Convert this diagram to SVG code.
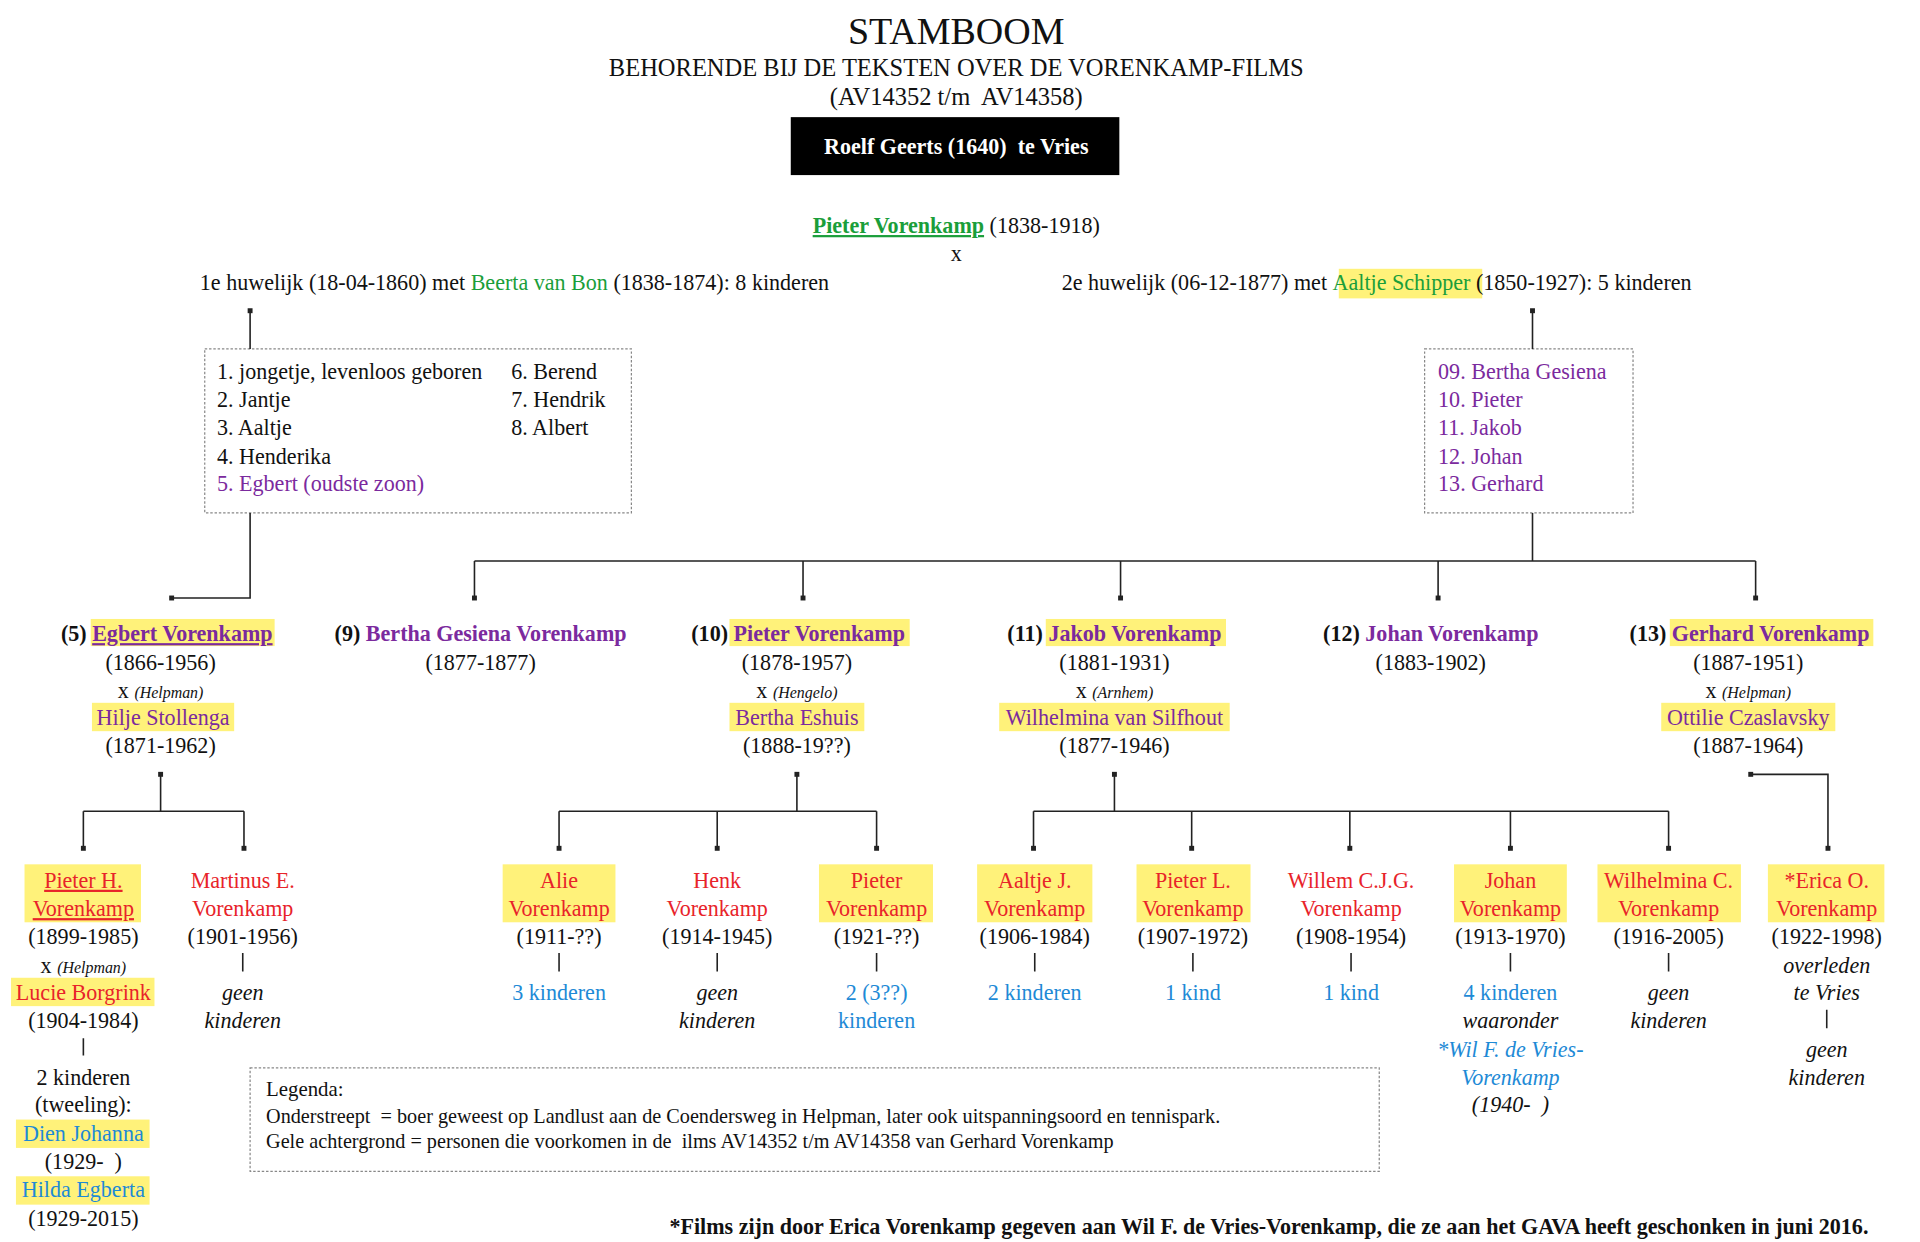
<svg xmlns="http://www.w3.org/2000/svg" width="1920" height="1242" viewBox="0 0 1920 1242">
<style>
text{font-family:"Liberation Serif",serif;font-size:18px;fill:#111;white-space:pre}
.c{text-anchor:middle}
.g{fill:#1a9e3a}.p{fill:#7b2a9e}.r{fill:#e8232a}.b{fill:#1e8ad6}
.i{font-style:italic}.sm{font-size:13px;font-style:italic}
.hl{fill:#fff27a}
.ln{stroke:#222;stroke-width:1.3;fill:none}
.box{fill:none;stroke:#888;stroke-width:1;stroke-dasharray:2 1.5}
.bold{font-weight:bold}
</style>
<rect width="1920" height="1242" fill="#fff"/>
<g transform="scale(1.226,1.233)">
<g id="title">
<text x="780" y="36" class="c" style="font-size:31px">STAMBOOM</text>
<text x="780" y="62" class="c" style="font-size:20px">BEHORENDE BIJ DE TEKSTEN OVER DE VORENKAMP-FILMS</text>
<text x="780" y="85" class="c" style="font-size:20px">(AV14352 t/m  AV14358)</text>
</g>
<g id="roelf"><rect x="645" y="95" width="268" height="47" fill="#000"/>
<text x="780" y="125" class="c bold" style="fill:#fff">Roelf Geerts (1640)  te Vries</text></g>
<g id="pieter-sr">
<text x="780" y="189" class="c"><tspan class="g bold" text-decoration="underline">Pieter Vorenkamp</tspan> (1838-1918)</text>
<text x="780" y="212" class="c">x</text>
<text x="163" y="235">1e huwelijk (18-04-1860) met <tspan class="g">Beerta van Bon</tspan> (1838-1874): 8 kinderen</text>
<rect class="hl" x="1092" y="218" width="117" height="24"/>
<text x="866" y="235">2e huwelijk (06-12-1877) met <tspan class="g">Aaltje Schipper</tspan> (1850-1927): 5 kinderen</text>
</g>
<g id="box1"><rect class="box" x="167" y="283" width="348" height="133"/>
<text x="177" y="307">1. jongetje, levenloos geboren</text><text x="177" y="330">2. Jantje</text><text x="177" y="353">3. Aaltje</text><text x="177" y="376">4. Henderika</text><text x="177" y="398" class="p">5. Egbert (oudste zoon)</text>
<text x="417" y="307">6. Berend</text><text x="417" y="330">7. Hendrik</text><text x="417" y="353">8. Albert</text></g>
<g id="box2"><rect class="box" x="1162" y="283" width="170" height="133"/>
<text x="1173" y="307" class="p">09. Bertha Gesiena</text><text x="1173" y="330" class="p">10. Pieter</text><text x="1173" y="353" class="p">11. Jakob</text><text x="1173" y="376" class="p">12. Johan</text><text x="1173" y="398" class="p">13. Gerhard</text></g>
<g id="connectors">
<path class="ln" d="M204 252V283M1250 252V283M204 416V485H140M1250 416V455M387 455H1432M387 455V485M655 455V485M914 455V485M1173 455V485M1432 455V485"/>
<path class="ln" d="M131 628V658M68 658H199M68 658V688M199 658V688M650 628V658M456 658H715M456 658V688M585 658V688M715 658V688M909 628V658M843 658H1361M843 658V688M972 658V688M1101 658V688M1232 658V688M1361 658V688M1428 628H1491V688"/>
<g fill="#222"><rect x="202" y="250" width="4" height="4"/><rect x="1248" y="250" width="4" height="4"/><rect x="138" y="483" width="4" height="4"/><rect x="385" y="483" width="4" height="4"/><rect x="653" y="483" width="4" height="4"/><rect x="912" y="483" width="4" height="4"/><rect x="1171" y="483" width="4" height="4"/><rect x="1430" y="483" width="4" height="4"/>
<rect x="129" y="626" width="4" height="4"/><rect x="648" y="626" width="4" height="4"/><rect x="907" y="626" width="4" height="4"/><rect x="1426" y="626" width="4" height="4"/>
<rect x="66" y="686" width="4" height="4"/><rect x="197" y="686" width="4" height="4"/><rect x="454" y="686" width="4" height="4"/><rect x="583" y="686" width="4" height="4"/><rect x="713" y="686" width="4" height="4"/><rect x="841" y="686" width="4" height="4"/><rect x="970" y="686" width="4" height="4"/><rect x="1099" y="686" width="4" height="4"/><rect x="1230" y="686" width="4" height="4"/><rect x="1359" y="686" width="4" height="4"/><rect x="1489" y="686" width="4" height="4"/></g>
<path class="ln" d="M68 842V856M198 773V788M456 773V788M585 773V788M715 773V788M844 773V788M973 773V788M1102 773V788M1232 773V788M1361 773V788M1490 819V834"/>
</g>
<g id="egbert"><rect class="hl" x="74" y="502" width="150" height="22"/><rect class="hl" x="75" y="570" width="116" height="23"/>
<text x="136" y="520" class="c bold">(5) <tspan class="p" text-decoration="underline">Egbert Vorenkamp</tspan></text>
<text x="131" y="543" class="c">(1866-1956)</text><text x="131" y="566" class="c">x <tspan class="sm">(Helpman)</tspan></text>
<text x="133" y="588" class="c p">Hilje Stollenga</text><text x="131" y="611" class="c">(1871-1962)</text></g>
<g id="bertha"><text x="392" y="520" class="c bold">(9) <tspan class="p">Bertha Gesiena Vorenkamp</tspan></text><text x="392" y="543" class="c">(1877-1877)</text></g>
<g id="pieter"><rect class="hl" x="595" y="502" width="147" height="22"/><rect class="hl" x="595" y="570" width="110" height="23"/>
<text x="651" y="520" class="c bold">(10) <tspan class="p">Pieter Vorenkamp</tspan></text>
<text x="650" y="543" class="c">(1878-1957)</text><text x="650" y="566" class="c">x <tspan class="sm">(Hengelo)</tspan></text>
<text x="650" y="588" class="c p">Bertha Eshuis</text><text x="650" y="611" class="c">(1888-19??)</text></g>
<g id="jakob"><rect class="hl" x="853" y="502" width="147" height="22"/><rect class="hl" x="815" y="570" width="188" height="23"/>
<text x="909" y="520" class="c bold">(11) <tspan class="p">Jakob Vorenkamp</tspan></text>
<text x="909" y="543" class="c">(1881-1931)</text><text x="909" y="566" class="c">x <tspan class="sm">(Arnhem)</tspan></text>
<text x="909" y="588" class="c p">Wilhelmina van Silfhout</text><text x="909" y="611" class="c">(1877-1946)</text></g>
<g id="johan"><text x="1167" y="520" class="c bold">(12) <tspan class="p">Johan Vorenkamp</tspan></text><text x="1167" y="543" class="c">(1883-1902)</text></g>
<g id="gerhard"><rect class="hl" x="1362" y="502" width="166" height="22"/><rect class="hl" x="1355" y="570" width="142" height="23"/>
<text x="1427" y="520" class="c bold">(13) <tspan class="p">Gerhard Vorenkamp</tspan></text>
<text x="1426" y="543" class="c">(1887-1951)</text><text x="1426" y="566" class="c">x <tspan class="sm">(Helpman)</tspan></text>
<text x="1426" y="588" class="c p">Ottilie Czaslavsky</text><text x="1426" y="611" class="c">(1887-1964)</text></g>
<g id="pieterH"><rect class="hl" x="20" y="701" width="95" height="47"/><rect class="hl" x="9" y="793" width="117" height="23"/><rect class="hl" x="13" y="908" width="109" height="23"/><rect class="hl" x="13" y="954" width="109" height="23"/>
<text x="68" y="720" class="c r" text-decoration="underline">Pieter H.</text><text x="68" y="743" class="c r" text-decoration="underline">Vorenkamp</text>
<text x="68" y="766" class="c">(1899-1985)</text><text x="68" y="789" class="c">x <tspan class="sm">(Helpman)</tspan></text>
<text x="68" y="811" class="c r">Lucie Borgrink</text><text x="68" y="834" class="c">(1904-1984)</text>
<text x="68" y="880" class="c">2 kinderen</text><text x="68" y="902" class="c">(tweeling):</text>
<text x="68" y="925" class="c b">Dien Johanna</text><text x="68" y="948" class="c">(1929-  )</text>
<text x="68" y="971" class="c b">Hilda Egberta</text><text x="68" y="994" class="c">(1929-2015)</text></g>
<g id="martinus"><text x="198" y="720" class="c r">Martinus E.</text><text x="198" y="743" class="c r">Vorenkamp</text><text x="198" y="766" class="c">(1901-1956)</text><text x="198" y="811" class="c i">geen</text><text x="198" y="834" class="c i">kinderen</text></g>
<g id="alie"><rect class="hl" x="410" y="701" width="92" height="47"/><text x="456" y="720" class="c r">Alie</text><text x="456" y="743" class="c r">Vorenkamp</text><text x="456" y="766" class="c">(1911-??)</text><text x="456" y="811" class="c b">3 kinderen</text></g>
<g id="henk"><text x="585" y="720" class="c r">Henk</text><text x="585" y="743" class="c r">Vorenkamp</text><text x="585" y="766" class="c">(1914-1945)</text><text x="585" y="811" class="c i">geen</text><text x="585" y="834" class="c i">kinderen</text></g>
<g id="pieter3"><rect class="hl" x="668" y="701" width="93" height="47"/><text x="715" y="720" class="c r">Pieter</text><text x="715" y="743" class="c r">Vorenkamp</text><text x="715" y="766" class="c">(1921-??)</text><text x="715" y="811" class="c b">2 (3??)</text><text x="715" y="834" class="c b">kinderen</text></g>
<g id="aaltje"><rect class="hl" x="797" y="701" width="94" height="47"/><text x="844" y="720" class="c r">Aaltje J.</text><text x="844" y="743" class="c r">Vorenkamp</text><text x="844" y="766" class="c">(1906-1984)</text><text x="844" y="811" class="c b">2 kinderen</text></g>
<g id="pieterL"><rect class="hl" x="927" y="701" width="93" height="47"/><text x="973" y="720" class="c r">Pieter L.</text><text x="973" y="743" class="c r">Vorenkamp</text><text x="973" y="766" class="c">(1907-1972)</text><text x="973" y="811" class="c b">1 kind</text></g>
<g id="willem"><text x="1102" y="720" class="c r">Willem C.J.G.</text><text x="1102" y="743" class="c r">Vorenkamp</text><text x="1102" y="766" class="c">(1908-1954)</text><text x="1102" y="811" class="c b">1 kind</text></g>
<g id="johan3"><rect class="hl" x="1186" y="701" width="92" height="47"/><text x="1232" y="720" class="c r">Johan</text><text x="1232" y="743" class="c r">Vorenkamp</text><text x="1232" y="766" class="c">(1913-1970)</text><text x="1232" y="811" class="c b">4 kinderen</text><text x="1232" y="834" class="c i">waaronder</text><text x="1232" y="857" class="c i b">*Wil F. de Vries-</text><text x="1232" y="880" class="c i b">Vorenkamp</text><text x="1232" y="902" class="c i">(1940-  )</text></g>
<g id="wilhelmina"><rect class="hl" x="1303" y="701" width="117" height="47"/><text x="1361" y="720" class="c r">Wilhelmina C.</text><text x="1361" y="743" class="c r">Vorenkamp</text><text x="1361" y="766" class="c">(1916-2005)</text><text x="1361" y="811" class="c i">geen</text><text x="1361" y="834" class="c i">kinderen</text></g>
<g id="erica"><rect class="hl" x="1442" y="701" width="95" height="47"/><text x="1490" y="720" class="c r">*Erica O.</text><text x="1490" y="743" class="c r">Vorenkamp</text><text x="1490" y="766" class="c">(1922-1998)</text><text x="1490" y="789" class="c i">overleden</text><text x="1490" y="811" class="c i">te Vries</text><text x="1490" y="857" class="c i">geen</text><text x="1490" y="880" class="c i">kinderen</text></g>
<g id="legend"><rect class="box" x="204" y="866" width="921" height="84"/>
<text x="217" y="889" style="font-size:17px">Legenda:</text>
<text x="217" y="911" style="font-size:16.5px">Onderstreept  = boer geweest op Landlust aan de Coendersweg in Helpman, later ook uitspanningsoord en tennispark.</text>
<text x="217" y="931" style="font-size:16.5px">Gele achtergrond = personen die voorkomen in de  ilms AV14352 t/m AV14358 van Gerhard Vorenkamp</text></g>
<g id="footer"><text x="1524" y="1001" class="bold" style="text-anchor:end;font-size:18px">*Films zijn door Erica Vorenkamp gegeven aan Wil F. de Vries-Vorenkamp, die ze aan het GAVA heeft geschonken in juni 2016.</text></g>
</g>
</svg>
